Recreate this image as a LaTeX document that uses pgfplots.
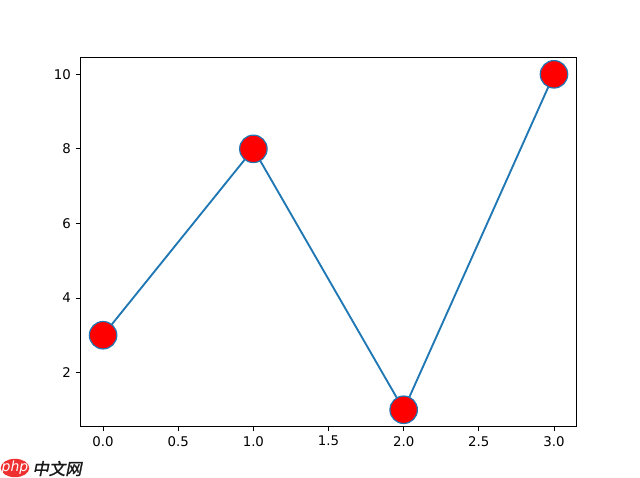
\documentclass[border=0pt]{standalone}
\usepackage{fontspec}
\setmainfont{DejaVu Sans}
\newfontfamily\cjk[FakeSlant=0.2,FakeBold=1.5]{Noto Sans CJK SC}
\usepackage{pgfplots}
\pgfplotsset{compat=1.18}
\definecolor{mblue}{HTML}{1F77B4}
\definecolor{logored}{HTML}{EE3030}
\begin{document}
\begin{tikzpicture}
\begin{axis}[
  at={(60.4pt,38.6pt)},anchor=south west,
  width=372pt,height=276.75pt,scale only axis,
  xmin=-0.15,xmax=3.15,ymin=0.55,ymax=10.45,
  xtick={0,0.5,1,1.5,2,2.5,3},
  xticklabels={0.0,0.5,1.0,1.5,2.0,2.5,3.0},
  ytick={2,4,6,8,10},
  tick align=outside,
  tick style={black,line width=0.6pt},
  major tick length=3.65pt,
  axis line style={line width=0.6pt},
  tick label style={font=\fontsize{10}{12}\selectfont},
  /pgf/number format/assume math mode=true,
  xtick pos=bottom,ytick pos=left,
  clip=false,
]
\addplot[color=mblue,line width=1.4pt,mark=*,mark size=10.3pt,
  mark options={fill=red,draw=mblue,line width=0.9pt}]
  coordinates {(0,3)(1,8)(2,1)(3,10)};
\end{axis}
\fill[logored] (11.25pt,7.5pt) ellipse [x radius=10.7pt,y radius=6.9pt];
\node[text=white,font=\fontsize{10.5}{10}\selectfont\itshape,inner sep=0pt] at (11.25pt,7.4pt) {php};
\node[text=black!90,font=\cjk\fontsize{12.3}{12}\selectfont,inner sep=0pt] at (42.75pt,7.1pt) {中文网};
\path (0pt,0pt) rectangle (480pt,358.5pt);
\end{tikzpicture}
\end{document}
